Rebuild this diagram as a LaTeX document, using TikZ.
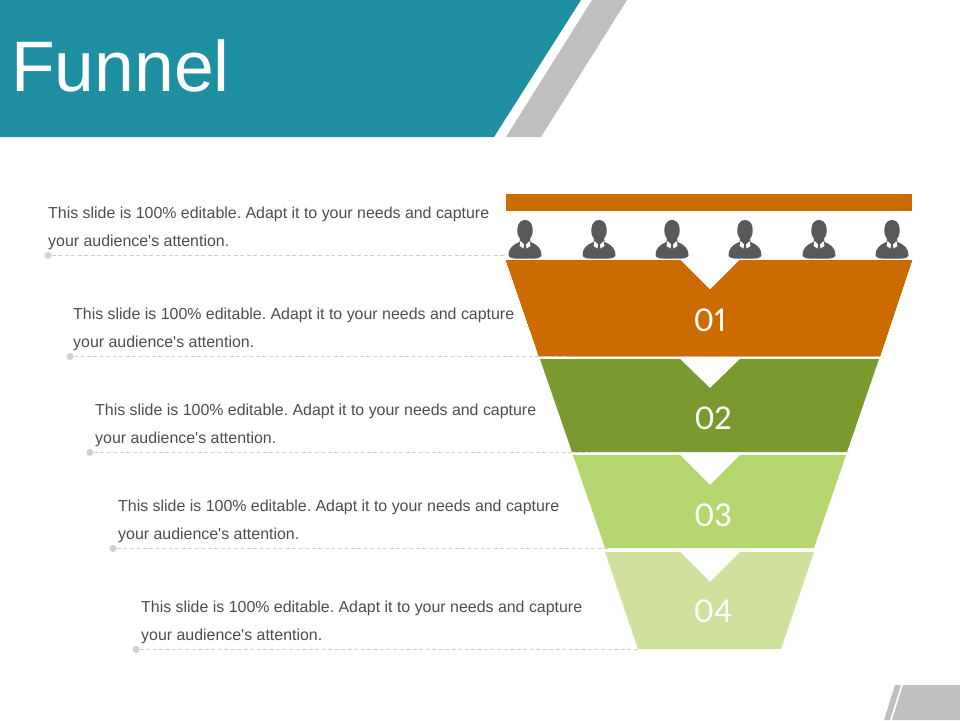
\documentclass[tikz,border=0pt]{standalone}
\usepackage{fontspec}
\setmainfont{Liberation Sans}
\newfontfamily\numberfont[Numbers=Proportional]{Carlito}
\usepackage{xcolor}

\definecolor{tealband}{HTML}{1D8FA1}
\definecolor{stripegrey}{HTML}{BFBFBF}
\definecolor{dotgrey}{HTML}{D0D0D0}
\definecolor{darkorange}{HTML}{CC6B00}
\definecolor{darkgreen}{HTML}{7A9A30}
\definecolor{midgreen}{HTML}{B5D56F}
\definecolor{palegreen}{HTML}{CFE19D}
\definecolor{persongrey}{HTML}{595959}
\definecolor{textgrey}{HTML}{4D4D4D}

\tikzset{
  caption/.style={anchor=north west,align=left,text=textgrey,font=\frenchspacing\fontsize{15.93}{28}\selectfont,inner sep=0pt},
  number/.style={text=white,font=\numberfont\fontsize{35}{35}\selectfont,inner sep=0pt},
  leaderdot/.style={circle,fill=dotgrey,minimum size=7pt,inner sep=0pt},
  leader/.style={dotgrey,dashed,dash pattern=on 4pt off 2.5pt,line width=0.7pt}
}

\newcommand{\person}[1]{
  \begin{scope}[shift={(#1,0)}]
    \fill[persongrey] (-16.5,255) .. controls (-16.5,249) and (-13,245) .. (-5.5,242) -- (-5,238.5)
      .. controls (-7.5,236) and (-8,232) .. (-7.5,228) .. controls (-7,222) and (-3,220) .. (0,220)
      .. controls (3,220) and (7,222) .. (7.5,228) .. controls (8,232) and (7.5,236) .. (5,238.5) -- (5.5,242)
      .. controls (13,245) and (16.5,249) .. (16.5,255) .. controls (16.5,257.5) and (12,258.5) .. (10,258.5)
      -- (-10,258.5) .. controls (-12,258.5) and (-16.5,257.5) .. (-16.5,255) -- cycle;
    \fill[white] (-4.5,241) -- (-1,244.5) -- (-1.5,248.5) -- (-5.5,246) -- cycle;
    \fill[white] (4.5,241) -- (1,244.5) -- (1.5,248.5) -- (5.5,246) -- cycle;
  \end{scope}
}

\begin{document}
\begin{tikzpicture}[x=1pt,y=-1pt]
  \useasboundingbox (0,0) rectangle (960,720);
  % title band
  \fill[tealband] (0,0) -- (581,0) -- (494,137) -- (0,137) -- cycle;
  \fill[stripegrey] (592,0) -- (627,0) -- (541,137) -- (506,137) -- cycle;
  \node[anchor=base west,text=white,font=\fontsize{71.5}{72}\selectfont,inner sep=0pt] (title) at (11,91) {Funnel};
  % corner marks
  \fill[stripegrey] (895,685) -- (901,685) -- (890,720) -- (884,720) -- cycle;
  \fill[stripegrey] (903,685) -- (960,685) -- (960,720) -- (892,720) -- cycle;
  % funnel
  \fill[darkorange] (506,194) rectangle (912,211);
  \foreach \px in {525,599,672,745,819,892}
    \person{\px}
  \fill[darkorange] (506,260) -- (680,260) -- (710,290) -- (740,260) -- (912,260) -- (880,356) -- (539,356) -- cycle;
  \fill[darkgreen] (540,359) -- (680,359) -- (710,388) -- (740,359) -- (879,359) -- (847,452) -- (572,452) -- cycle;
  \fill[midgreen] (573,455) -- (680,455) -- (710,485) -- (740,455) -- (846,455) -- (814,548) -- (605,548) -- cycle;
  \fill[palegreen] (605,552) -- (680,552) -- (710,582) -- (740,552) -- (814,552) -- (781,649) -- (638,649) -- cycle;
  \node[number] (n1) at (710,320) {01};
  \node[number] (n2) at (713,418) {02};
  \node[number] (n3) at (713,515) {03};
  \node[number] (n4) at (713,611) {04};
  % captions with their dotted leaders
  \foreach \tx/\ty/\dx/\dy/\ex/\nm in {48/207/48/255.5/506/a,73/308/70/356.5/565/b,95/404/90/452.5/590/c,118/500/113/548.5/610/d,141/601/136/649.5/638/e}{
    \node[caption] (text\nm) at (\tx,\ty) {This slide is 100\% editable. Adapt it to your needs and capture\\your audience\textquotesingle s attention.};
    \node[leaderdot] (dot\nm) at (\dx,\dy) {};
    \coordinate (end\nm) at (\ex,\dy);
    \draw[leader] (dot\nm) -- (end\nm);
  }
\end{tikzpicture}
\end{document}
